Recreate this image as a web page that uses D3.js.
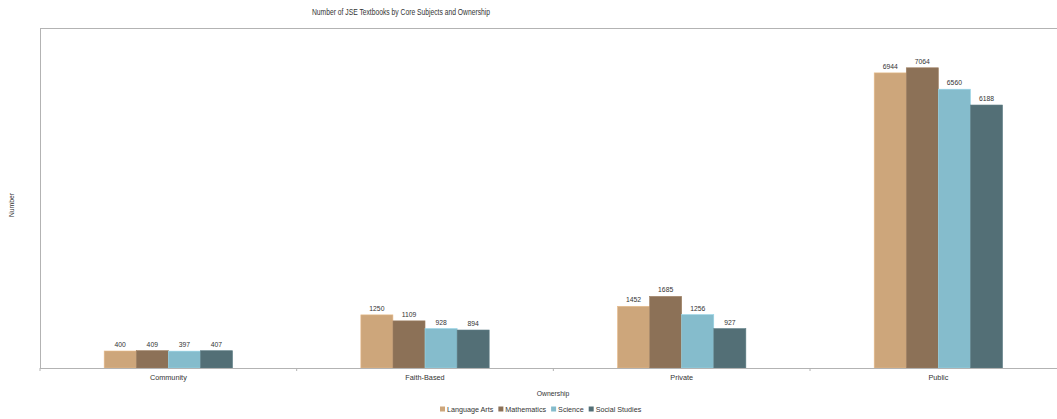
<!DOCTYPE html>
<html><head><meta charset="utf-8">
<script src="https://cdn.jsdelivr.net/npm/d3@7"></script>
<style>body{margin:0;background:#fff;}svg{display:block;font-family:"Liberation Sans",Arial,sans-serif;}</style>
</head><body>
<svg id="c" width="1057" height="419"></svg>
<script>
const categories = ["Community","Faith-Based","Private","Public"];
const seriesNames = ["Language Arts","Mathematics","Science","Social Studies"];
const languageArts = [400,1250,1452,6944];
const mathematics = [409,1109,1685,7064];
const science = [397,928,1256,6560];
const socialStudies = [407,894,927,6188];
const colors = ["#cda67b","#8c7157","#85bccc","#536f76"];
const seriesValues = [languageArts, mathematics, science, socialStudies];

(function(){
const svg = d3.select("#c");
const mLeft = 40, mTop = 28, mBottom = 368, mRight = 1066.7;
const txt = "#333";
const x = d3.scaleBand().domain(categories).range([mLeft, mRight]).paddingInner(0).paddingOuter(0);
const x1 = d3.scaleBand().domain(seriesNames).range([0, x.bandwidth()]).paddingInner(0).paddingOuter(2);
const y = d3.scaleLinear().domain([0, 8000]).range([mBottom, mTop]);

// frame
svg.append("line").attr("x1",mLeft).attr("x2",1057).attr("y1",mTop+0.5).attr("y2",mTop+0.5).attr("stroke","#b3b3b3");
svg.append("line").attr("x1",mLeft+0.5).attr("x2",mLeft+0.5).attr("y1",mTop).attr("y2",mBottom).attr("stroke","#b3b3b3");

// bars
categories.forEach((c,i)=>{
  seriesNames.forEach((s,j)=>{
    const v = seriesValues[j][i];
    const bx = x(c)+x1(s);
    svg.append("rect").attr("x",bx).attr("y",y(v)).attr("width",x1.bandwidth()).attr("height",mBottom-y(v))
      .attr("fill",colors[j]).attr("stroke",d3.color(colors[j]).brighter(0.35)).attr("stroke-width",0.6);
    svg.append("text").attr("x",bx+x1.bandwidth()/2).attr("y",y(v)-4).attr("text-anchor","middle")
      .attr("font-size",6.8).attr("fill",txt).text(v);
  });
});

// x axis
const xAxis = svg.append("g").attr("transform",`translate(0,${mBottom})`)
  .call(d3.axisBottom(x).tickSize(0).tickPadding(7));
xAxis.select(".domain").remove();
xAxis.selectAll("text").attr("font-size",7.3).attr("fill",txt).attr("font-family","Liberation Sans, Arial, sans-serif");
svg.append("line").attr("x1",mLeft).attr("x2",1057).attr("y1",mBottom+0.5).attr("y2",mBottom+0.5).attr("stroke","#b3b3b3");
[0,1,2,3,4].forEach(k=>{
  const tx = mLeft + k*x.step();
  svg.append("line").attr("x1",tx).attr("x2",tx).attr("y1",mBottom).attr("y2",mBottom+3).attr("stroke","#b3b3b3");
});

// titles
svg.append("text").attr("x",312).attr("y",14.5)
  .attr("font-size",9).attr("fill",txt)
  .attr("textLength",178).attr("lengthAdjust","spacingAndGlyphs")
  .text("Number of JSE Textbooks by Core Subjects and Ownership");
svg.append("text").attr("x",553).attr("y",396).attr("text-anchor","middle").attr("font-size",6.8).attr("fill",txt).text("Ownership");
svg.append("text").attr("transform","translate(14,205) rotate(-90)").attr("text-anchor","middle").attr("font-size",6.8).attr("fill",txt).text("Number");

// legend
const lg = svg.append("g").attr("transform","translate(440,409)");
let lx = 0;
seriesNames.forEach((s,j)=>{
  lg.append("rect").attr("x",lx).attr("y",-2.5).attr("width",5).attr("height",5).attr("fill",colors[j]);
  const t = lg.append("text").attr("x",lx+7).attr("y",2.5).attr("font-size",7.2).attr("fill",txt).text(s);
  lx += 7 + t.node().getComputedTextLength() + 5;
});
})();
</script>
</body></html>
